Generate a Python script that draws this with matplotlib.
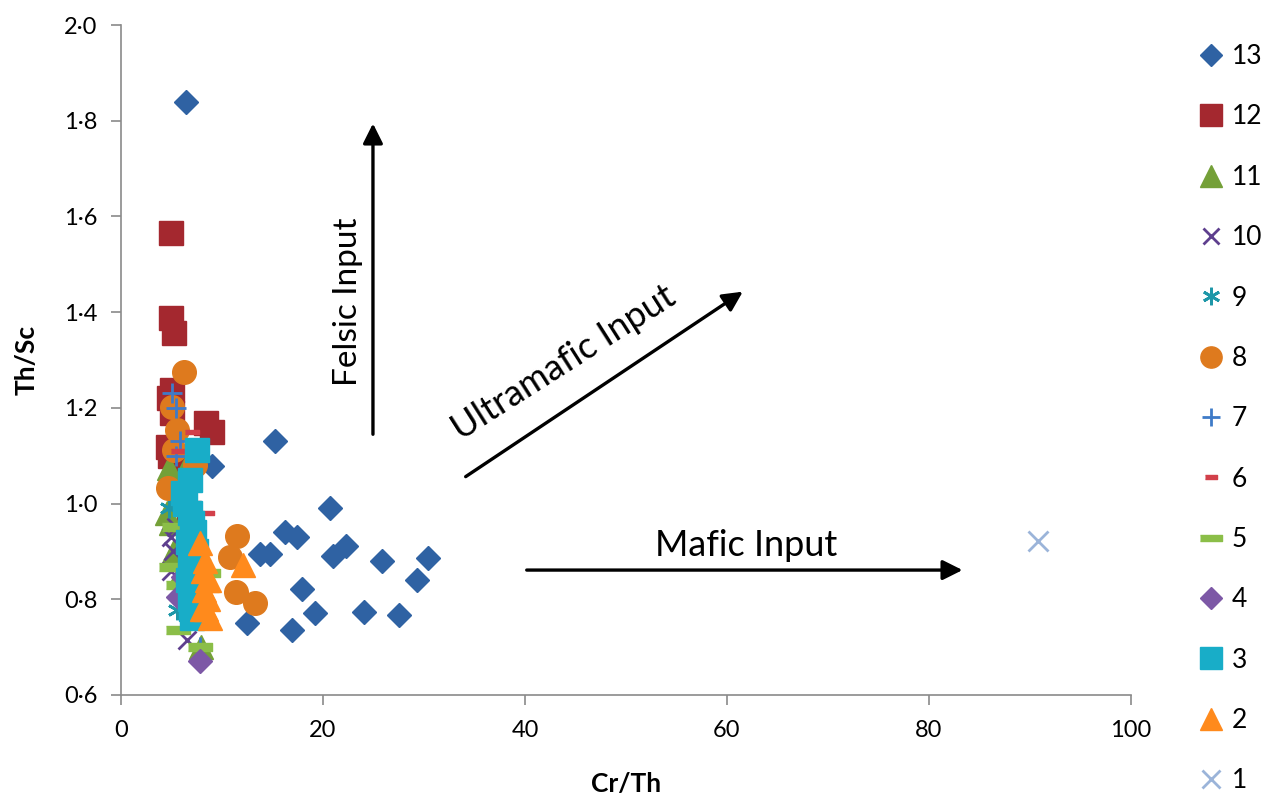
import matplotlib
matplotlib.use("Agg")
import matplotlib.pyplot as plt
from matplotlib.ticker import FuncFormatter, MultipleLocator

plt.rcParams['font.family'] = ['Lato', 'DejaVu Sans']

# Cr/Th and Th/Sc per group
cr_th_13 = [6.4, 15.3, 9.0, 20.7, 16.2, 17.4, 13.8, 14.8, 21.0, 22.3, 25.8, 30.4, 29.3, 17.9, 19.2, 24.1, 27.5, 12.5, 16.9]
th_sc_13 = [1.84, 1.131, 1.079, 0.991, 0.941, 0.930, 0.895, 0.895, 0.890, 0.911, 0.880, 0.886, 0.840, 0.822, 0.771, 0.773, 0.767, 0.750, 0.736]

cr_th_12 = [5.0, 5.0, 5.3, 5.1, 4.8, 5.1, 4.7, 4.9, 8.4, 9.0, 6.5, 6.7]
th_sc_12 = [1.565, 1.388, 1.356, 1.237, 1.22, 1.19, 1.118, 1.10, 1.168, 1.150, 1.08, 0.98]

cr_th_11 = [4.8, 4.6, 5.0, 6.5, 5.3, 5.8, 7.9]
th_sc_11 = [1.074, 0.98, 0.96, 1.08, 0.90, 0.85, 0.70]

cr_th_10 = [5.0, 5.2, 5.0, 6.5, 5.4]
th_sc_10 = [0.93, 0.90, 0.86, 0.715, 0.95]

cr_th_9 = [5.5, 4.8]
th_sc_9 = [0.778, 0.99]

cr_th_8 = [6.2, 5.1, 5.5, 5.3, 4.7, 7.3, 11.5, 10.8, 11.4, 13.3]
th_sc_8 = [1.275, 1.202, 1.154, 1.112, 1.033, 1.08, 0.933, 0.889, 0.815, 0.792]

cr_th_7 = [5.1, 5.4, 5.8, 5.4, 7.8]
th_sc_7 = [1.23, 1.20, 1.13, 1.10, 0.70]

cr_th_6 = [7.0, 7.1, 8.5, 5.6]
th_sc_6 = [1.15, 1.056, 0.98, 1.11]

cr_th_5 = [5.3, 5.0, 5.6, 7.8, 8.6, 5.6]
th_sc_5 = [0.951, 0.868, 0.736, 0.70, 0.855, 0.83]

cr_th_4 = [7.8, 5.6, 6.1]
th_sc_4 = [0.672, 0.805, 0.847]

cr_th_3 = [7.5, 6.1, 6.3, 6.8, 7.0, 7.2, 6.6, 7.4, 6.8, 7.0, 6.6, 7.2, 6.8, 6.9, 7.0, 7.6, 6.8]
th_sc_3 = [1.112, 1.022, 1.00, 0.98, 0.96, 0.94, 0.92, 0.90, 0.88, 0.86, 0.84, 0.82, 0.80, 0.78, 0.76, 0.86, 1.05]

cr_th_2 = [7.8, 8.3, 8.1, 8.5, 8.2, 8.6, 8.4, 8.8, 8.7, 8.0, 12.1]
th_sc_2 = [0.918, 0.88, 0.86, 0.84, 0.82, 0.80, 0.78, 0.76, 0.84, 0.78, 0.872]

cr_th_1 = [90.8]
th_sc_1 = [0.922]

group_labels = ['13', '12', '11', '10', '9', '8', '7', '6', '5', '4', '3', '2', '1']

dash = [(-1, -0.3), (1, -0.3), (1, 0.3), (-1, 0.3)]
styles = {
    '13': dict(marker='D', ms=12, color='#2F62A3'),
    '12': dict(marker='s', ms=17, color='#A4282F'),
    '11': dict(marker='^', ms=17, color='#74A038'),
    '10': dict(marker='x', ms=13, color='#5E3F8E', mew=2),
    '9':  dict(marker=(6, 2, 0), ms=14, color='#1E97A8', mew=2),
    '8':  dict(marker='o', ms=17, color='#DE7A1E'),
    '7':  dict(marker='+', ms=15, color='#3F7BC8', mew=2),
    '6':  dict(marker=dash, ms=10, color='#D2404A'),
    '5':  dict(marker=dash, ms=17, color='#8BBE48'),
    '4':  dict(marker='D', ms=12, color='#7D58A6'),
    '3':  dict(marker='s', ms=17, color='#18ADC8'),
    '2':  dict(marker='^', ms=17, color='#FF8A1C'),
    '1':  dict(marker='x', ms=14, color='#9BB4D9', mew=2),
}

data = {
    '13': (cr_th_13, th_sc_13), '12': (cr_th_12, th_sc_12), '11': (cr_th_11, th_sc_11),
    '10': (cr_th_10, th_sc_10), '9': (cr_th_9, th_sc_9), '8': (cr_th_8, th_sc_8),
    '7': (cr_th_7, th_sc_7), '6': (cr_th_6, th_sc_6), '5': (cr_th_5, th_sc_5),
    '4': (cr_th_4, th_sc_4), '3': (cr_th_3, th_sc_3), '2': (cr_th_2, th_sc_2),
    '1': (cr_th_1, th_sc_1),
}

fig = plt.figure(figsize=(12.72, 7.99), dpi=100)
ax = fig.add_axes([0.0951, 0.1302, 0.7940, 0.8385])

handles = []
for g in group_labels:
    st = styles[g]
    xs, ys = data[g]
    h, = ax.plot(xs, ys, linestyle='none', marker=st['marker'], markersize=st['ms'],
                 color=st['color'], markeredgecolor=st['color'],
                 markeredgewidth=st.get('mew', 1.0), label=g)
    handles.append(h)

ax.set_xlim(0, 100)
ax.set_ylim(0.6, 2.0)
ax.xaxis.set_major_locator(MultipleLocator(20))
ax.yaxis.set_major_locator(MultipleLocator(0.2))
ax.yaxis.set_major_formatter(FuncFormatter(lambda v, p: f"{v:.1f}".replace('.', '\u00b7')))

for side in ['top', 'right']:
    ax.spines[side].set_visible(False)
for side in ['left', 'bottom']:
    ax.spines[side].set_color('#8a8a8a')
    ax.spines[side].set_linewidth(1.2)
ax.tick_params(direction='out', length=7, width=1.2, color='#8a8a8a', labelsize=17)
ax.tick_params(axis='y', pad=10)
ax.tick_params(axis='x', pad=11)

ax.set_xlabel('Cr/Th', fontsize=19, fontweight='bold', labelpad=22)
ax.set_ylabel('Th/Sc', fontsize=19, fontweight='bold', labelpad=18)

# trend arrows
arrow = dict(arrowstyle='-|>', color='black', lw=2.4, mutation_scale=30)
ax.annotate('', xy=(24.95, 1.80), xytext=(24.95, 1.139), arrowprops=arrow)
ax.annotate('', xy=(61.8, 1.446), xytext=(33.9, 1.053), arrowprops=arrow)
ax.annotate('', xy=(83.6, 0.861), xytext=(39.9, 0.861), arrowprops=arrow)

ax.text(22.5, 1.421, 'Felsic Input', rotation=90, fontsize=24, ha='center', va='center')
ax.text(43.8, 1.294, 'Ultramafic Input', rotation=32.5, fontsize=26, ha='center', va='center',
        rotation_mode='anchor')
ax.text(61.9, 0.913, 'Mafic Input', fontsize=26, ha='center', va='center')

fig.legend(handles=handles, loc='upper left', bbox_to_anchor=(0.931, 0.958),
           frameon=False, fontsize=19, labelspacing=1.34, handlelength=1.2,
           handletextpad=0.2, borderaxespad=0, markerscale=0.9)

fig.savefig('out.png', dpi=100)
